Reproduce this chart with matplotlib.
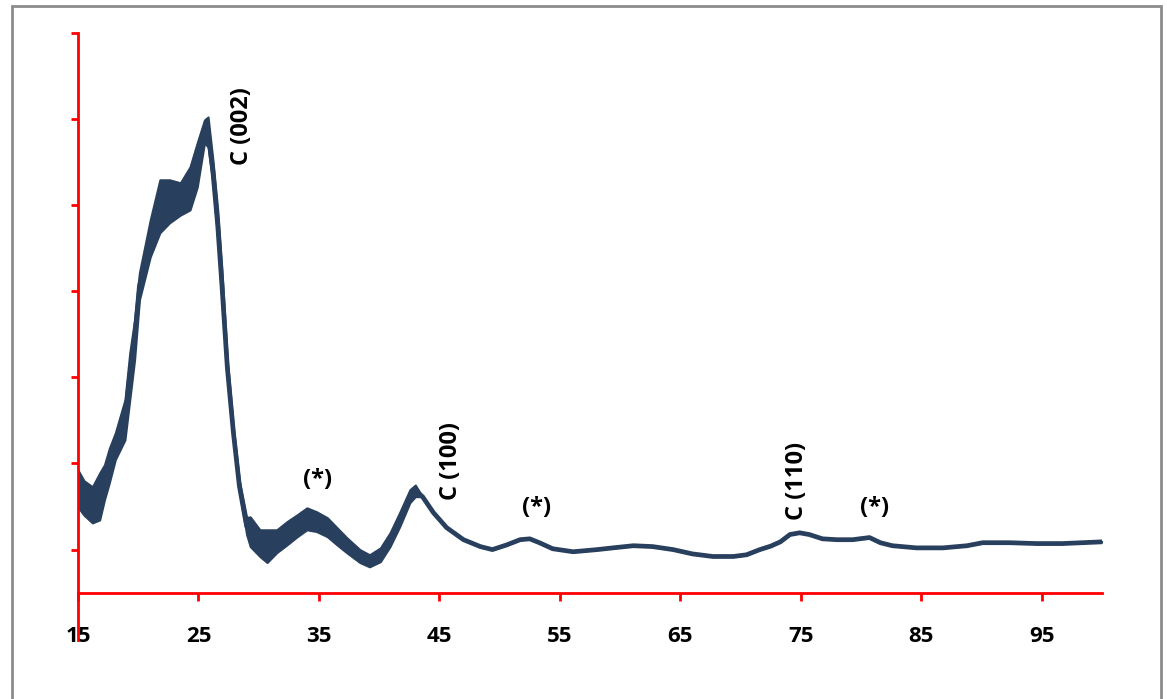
#!/usr/bin/env python3
"""XRD pattern of carbon sample with labelled reflections."""
import matplotlib
matplotlib.use("Agg")
import matplotlib.pyplot as plt
from matplotlib.patches import Rectangle
import numpy as np

# 2-theta positions and lower / upper edges of the trace (arb. units)
TWO_THETA = [15.0, 15.5, 16.2, 16.8, 17.2, 17.6, 18.1, 18.9, 19.3, 19.7,
             20.1, 21.0, 21.8, 22.6, 23.5, 24.3, 24.9, 25.5, 25.8, 26.2,
             26.6, 26.95, 27.4, 27.9, 28.4, 29.0, 29.3, 30.1, 30.7, 31.5,
             32.35, 33.2, 34.0, 34.8, 35.7, 36.5, 37.3, 38.4, 39.2, 40.1,
             40.9, 41.7, 42.55, 43.0, 43.6, 44.5, 45.6, 47.0, 48.4, 49.4,
             50.6, 51.7, 52.5, 53.3, 54.4, 56.1, 58.1, 59.4, 61.1, 62.7,
             64.4, 66.0, 67.7, 69.4, 70.5, 71.6, 72.5, 73.3, 74.1, 74.9,
             75.7, 76.8, 78.0, 79.3, 80.7, 81.6, 82.6, 84.6, 86.8, 88.8,
             90.1, 92.3, 94.6, 96.7, 100.0]
LOWER = [1.99, 1.80, 1.62, 1.69, 2.16, 2.55, 3.09, 3.55, 4.48, 5.41,
         6.80, 7.80, 8.36, 8.59, 8.77, 8.89, 9.42, 10.45, 10.35, 9.52,
         8.19, 6.80, 5.05, 3.60, 2.35, 1.35, 1.07, 0.84, 0.70, 0.93,
         1.11, 1.30, 1.46, 1.42, 1.30, 1.11, 0.93, 0.70, 0.60, 0.72,
         1.07, 1.53, 2.09, 2.23, 2.23, 1.86, 1.51, 1.23, 1.07, 1.00,
         1.11, 1.23, 1.25, 1.16, 1.02, 0.95, 1.00, 1.04, 1.09, 1.07,
         1.00, 0.90, 0.84, 0.84, 0.88, 1.00, 1.08, 1.18, 1.35, 1.39,
         1.35, 1.25, 1.23, 1.23, 1.28, 1.16, 1.09, 1.04, 1.04, 1.09,
         1.16, 1.16, 1.14, 1.14, 1.18]
UPPER = [2.85, 2.60, 2.46, 2.78, 2.97, 3.35, 3.71, 4.48, 5.57, 6.34,
         7.43, 8.66, 9.59, 9.59, 9.52, 9.89, 10.45, 10.98, 11.05, 10.05,
         8.89, 7.50, 5.40, 3.85, 2.60, 1.75, 1.76, 1.46, 1.46, 1.46,
         1.65, 1.81, 1.97, 1.88, 1.74, 1.51, 1.28, 1.00, 0.88, 1.04,
         1.39, 1.86, 2.39, 2.50, 2.23, 1.86, 1.51, 1.23, 1.07, 1.00,
         1.11, 1.23, 1.25, 1.16, 1.02, 0.95, 1.00, 1.04, 1.09, 1.07,
         1.00, 0.90, 0.84, 0.84, 0.88, 1.00, 1.08, 1.18, 1.35, 1.39,
         1.35, 1.25, 1.23, 1.23, 1.28, 1.16, 1.09, 1.04, 1.04, 1.09,
         1.16, 1.16, 1.14, 1.14, 1.18]

X_TICKS = [15, 25, 35, 45, 55, 65, 75, 85, 95]
Y_TICKS = [1, 3, 5, 7, 9, 11, 13]

PEAK_LABELS = ["C (002)", "C (100)", "C (110)"]
PEAK_X = [28.6, 46.0, 74.7]
PEAK_Y = [9.93, 2.16, 1.69]
STAR_X = [34.9, 53.1, 81.1]
STAR_Y = [2.62, 1.97, 1.97]

LINE = "#283f5e"
RED = "#ff0000"
FONT = ["Open Sans", "DejaVu Sans"]

fig = plt.figure(figsize=(11.67, 6.99), dpi=100)
ax = fig.add_axes([0.0668, 0.0844, 0.8775, 0.8684])

x = np.array(TWO_THETA)
lo = np.array(LOWER)
hi = np.array(UPPER)
ax.fill_between(x, lo, hi, color=LINE, linewidth=1.5, edgecolor=LINE, zorder=3)
ax.plot(x, (lo + hi) / 2, color=LINE, linewidth=3.4, solid_joinstyle="round", zorder=3)

for lab, px, py in zip(PEAK_LABELS, PEAK_X, PEAK_Y):
    ax.text(px, py, lab, rotation=90, ha="center", va="bottom",
            fontsize=17, fontweight="bold", family=FONT, color="black")
for px, py in zip(STAR_X, STAR_Y):
    ax.text(px, py, "(*)", ha="center", va="center",
            fontsize=17, fontweight="bold", family=FONT, color="black")

ax.set_xlim(15, 100)
ax.set_ylim(-1.1, 13)
ax.set_xticks(X_TICKS)
ax.set_yticks(Y_TICKS)
ax.set_yticklabels([])

for side in ("top", "right"):
    ax.spines[side].set_visible(False)
ax.spines["bottom"].set_position(("data", 0))
for side in ("left", "bottom"):
    ax.spines[side].set_color(RED)
    ax.spines[side].set_linewidth(2.0)
    ax.spines[side].set_zorder(4)

ax.tick_params(axis="x", direction="out", length=6, width=2.0, color=RED,
               pad=18, labelsize=16)
ax.tick_params(axis="y", direction="out", length=5, width=2.0, color=RED)
for t in ax.get_xticklabels():
    t.set_fontweight("bold")
    t.set_family(FONT)

# grey chart-area frame
fig.patches.append(Rectangle((12 / 1167, -0.05), (1161 - 12) / 1167, 1.05 - 5.5 / 699,
                             transform=fig.transFigure, fill=False,
                             edgecolor="#8c8c8c", linewidth=2.0, clip_on=False))

fig.savefig("out.png", dpi=100)
